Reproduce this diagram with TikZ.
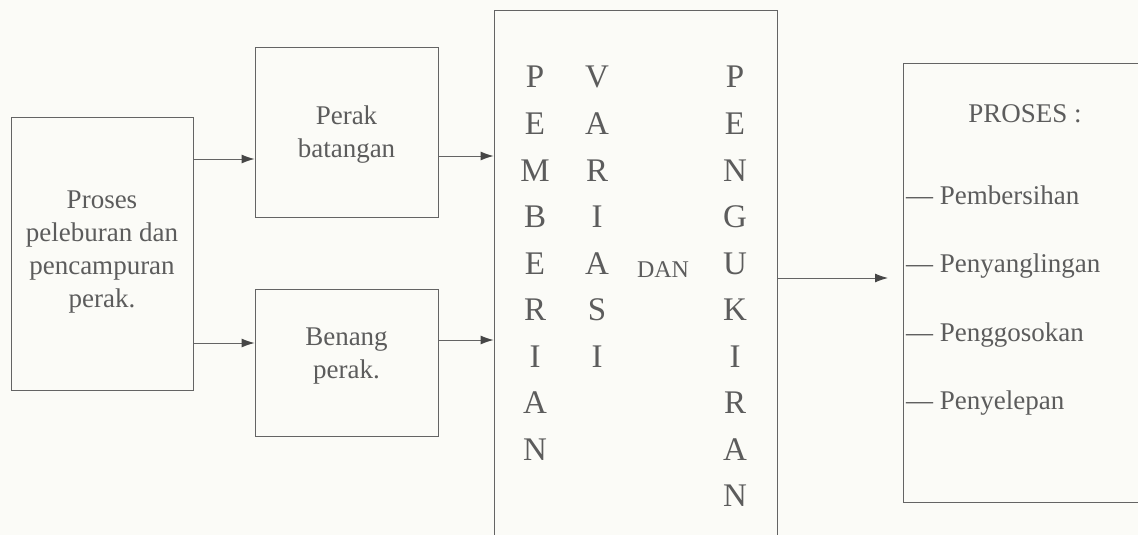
\documentclass[tikz,border=0pt]{standalone}
\usepackage{fontspec}
\setmainfont{Liberation Serif}
\usetikzlibrary{arrows.meta}
\definecolor{paper}{RGB}{251,251,247}
\definecolor{ink}{RGB}{92,92,92}
\definecolor{rule}{RGB}{100,100,100}
\definecolor{head}{RGB}{70,70,70}
\tikzset{
  box/.style={draw=rule, line width=0.9pt, inner sep=0pt, rectangle},
  flow/.style={draw=rule, line width=0.9pt, -{Latex[length=13pt,width=9pt,color=head]}},
  txt/.style={text=ink, inner sep=0pt, align=center, font=\fontsize{27}{33}\selectfont},
  item/.style={text=ink, inner sep=0pt, anchor=base west, font=\fontsize{27}{33}\selectfont},
  tall/.style={text=ink, inner sep=0pt, anchor=base, font=\fontsize{33}{40}\selectfont},
}
\begin{document}
\begin{tikzpicture}[x=1pt,y=-1pt]
\useasboundingbox (0,0) rectangle (1138,535);
\clip (0,0) rectangle (1138,535);
\fill[paper] (0,0) rectangle (1138,535);

% boxes
\node[box, minimum width=182pt, minimum height=273pt] (melt) at (102,253.5) {};
\node[box, minimum width=183pt, minimum height=170pt] (bar) at (346.5,132) {};
\node[box, minimum width=183pt, minimum height=147pt] (wire) at (346.5,362.5) {};
\node[box, minimum width=283pt, minimum height=535pt] (work) at (635.5,277.5) {};
\node[box, minimum width=242pt, minimum height=439pt] (finish) at (1024,282.5) {};

% box texts
\node[txt] (meltT) at (102,252) {Proses\\peleburan dan\\pencampuran\\perak.};
\node[txt] (barT) at (346.5,135) {Perak\\batangan};
\node[txt] (wireT) at (346.5,356) {Benang\\perak.};

% vertical words
\foreach \ch [count=\i from 0] in {P,E,M,B,E,R,I,A,N}
  \node[tall] (pa\i) at (535,88+46.5*\i) {\ch};
\foreach \ch [count=\i from 0] in {V,A,R,I,A,S,I}
  \node[tall] (va\i) at (597,88+46.5*\i) {\ch};
\foreach \ch [count=\i from 0] in {P,E,N,G,U,K,I,R,A,N}
  \node[tall] (pe\i) at (735,88+46.5*\i) {\ch};
\node[text=ink, inner sep=0pt, anchor=base, font=\fontsize{24}{28}\selectfont] (dan) at (663,277) {DAN};

% finishing list
\node[text=ink, inner sep=0pt, anchor=base, font=\fontsize{27}{33}\selectfont] (head) at (1025,122) {PROSES :};
\node[item] (s1) at (906,204) {— Pembersihan};
\node[item] (s2) at (906,272.5) {— Penyanglingan};
\node[item] (s3) at (906,341) {— Penggosokan};
\node[item] (s4) at (906,409.5) {— Penyelepan};

% connectors
\coordinate (tip) at (888,278);
\draw[flow] (melt.east |- 0,159) -- (bar.west |- 0,159);
\draw[flow] (melt.east |- 0,343) -- (wire.west |- 0,343);
\draw[flow] (bar.east |- 0,156) -- (work.west |- 0,156);
\draw[flow] (wire.east |- 0,340) -- (work.west |- 0,340);
\draw[flow] (work.east |- tip) -- (tip);
\end{tikzpicture}
\end{document}
